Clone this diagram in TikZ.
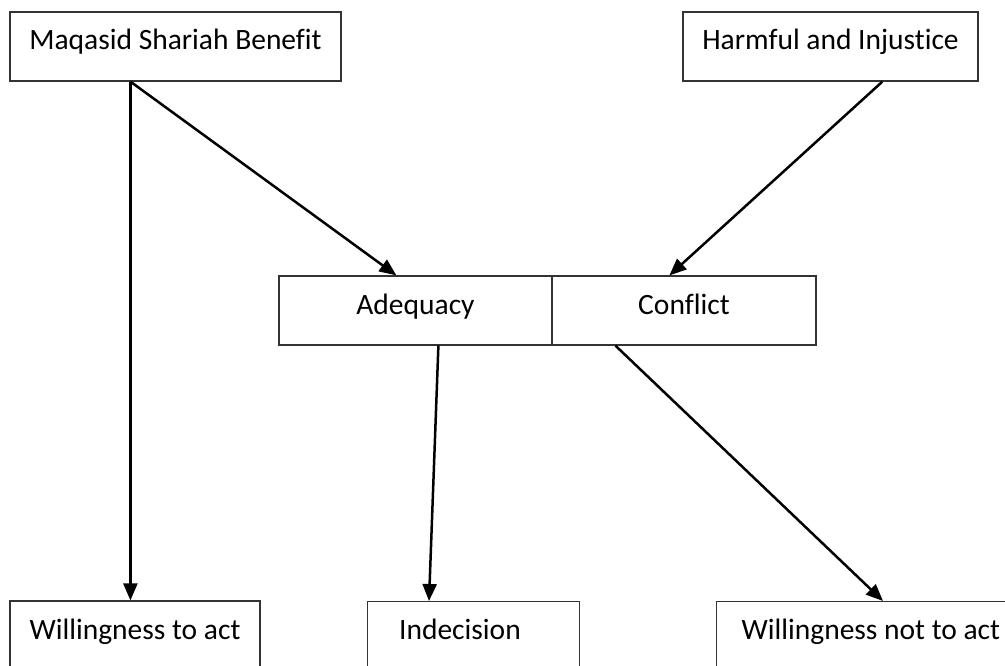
\documentclass[tikz,border=0pt]{standalone}
\usepackage{fontspec}
\setmainfont{Carlito}[Ligatures=CommonOff]
\usetikzlibrary{arrows.meta}
\begin{document}
\begin{tikzpicture}[x=1pt, y=-1pt, >={Triangle[length=17pt,width=14pt]},
box/.style={draw=black!80, line width=1.2pt, inner xsep=0pt, inner ysep=0pt, text height=38pt, text depth=31pt, font=\fontsize{29.5}{35}\selectfont},
arr/.style={->, line width=2.5pt}]
\useasboundingbox (0,0) rectangle (1005,666);
\node[box, minimum width=331pt] (mqs) at (175.5,46.5) {Maqasid Shariah Benefit};
\node[box, minimum width=295pt] (hij) at (830.5,46.5) {Harmful and Injustice};
\node[box, minimum width=273pt] (adq) at (415.5,310.5) {Adequacy};
\node[box, minimum width=264pt] (cfl) at (684,310.5) {Conflict};
\node[box, minimum width=250pt] (wta) at (135,635.5) {Willingness to act};
\node[box, text width=191pt, inner xsep=0pt, align=flush left, minimum width=212pt, anchor=north west] (ind) at (367,601) {\hspace*{21pt}Indecision};
\node[box, text width=314pt, align=flush left, anchor=north west] (wnta) at (716,601) {\hspace*{25pt}Willingness not to act};
\draw[arr] ([xshift=121pt]mqs.south west) -- ([xshift=121pt]mqs.south west |- wta.north);
\draw[arr] ([xshift=121pt]mqs.south west) -- ([xshift=118pt]adq.north west);
\draw[arr] ([xshift=200pt]hij.south west) -- ([xshift=118pt]cfl.north west);
\draw[arr] ([xshift=160pt]adq.south west) -- ([xshift=62pt]ind.north west);
\draw[arr] ([xshift=64pt]cfl.south west) -- ([xshift=167pt]wnta.north west);
\end{tikzpicture}
\end{document}
